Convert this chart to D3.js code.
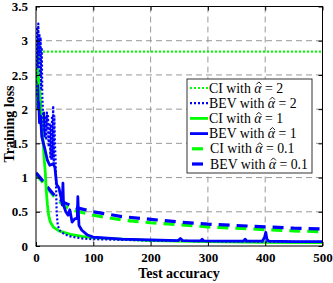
<!DOCTYPE html>
<html><head><meta charset="utf-8">
<script src="https://cdn.jsdelivr.net/npm/d3@7"></script>
<style>body{margin:0;background:#fff}svg{display:block}</style>
</head><body><svg id="c" width="333" height="283" style="font-family:'Liberation Serif','Times New Roman',Times,serif"></svg>
<script>
const xTicks=[0,100,200,300,400,500];
const yTicks=[0,0.5,1,1.5,2,2.5,3,3.5];
const yTickLabels=["0","0.5","1","1.5","2","2.5","3","3.5"];
const ciA2=[[0,2.0],[1,2.5],[2,3.0],[3,2.6],[4,2.95],[5,2.7],[6,2.95],[8,2.84],[500,2.84]];
const bevA2=[[0,2.4],[1,2.9],[2,3.2],[3,2.6],[4,3.25],[5,2.8],[6,3.1],[7,2.5],[8,3.05],[9,2.3],[10,2.9],[11,2.2],[12,2.0],[13,1.7],[14,1.95],[15,1.6],[16,1.9],[17,1.8],[18,1.55],[19,1.95],[20,1.7],[21,1.9],[22,1.45],[24,1.8],[25,1.3],[26,1.75],[27,1.25],[28,1.9],[29,1.3],[30,2.05],[31,1.2],[32,1.9],[33,1.5],[34,1.3],[35,0.9],[36,0.5],[38,0.3],[42,0.22],[50,0.17],[60,0.14],[80,0.11],[100,0.1],[200,0.08],[300,0.07],[500,0.06]];
const ciA1=[[0,2.3],[3,2.6],[5,2.4],[8,2.1],[10,1.9],[12,1.6],[14,1.3],[16,1.1],[18,0.8],[20,0.6],[22,0.45],[25,0.35],[30,0.28],[40,0.22],[60,0.17],[80,0.14],[100,0.12],[150,0.1],[200,0.08],[300,0.065],[400,0.055],[500,0.05]];
const bevA1=[[0,2.4],[2,2.2],[3,2.35],[4,2.0],[5,2.1],[6,1.8],[8,1.9],[10,1.6],[13,1.5],[16,1.4],[20,1.25],[24,1.18],[30,1.2],[33,1.15],[36,0.9],[40,0.85],[44,0.7],[46,0.6],[47,0.92],[48,0.6],[52,0.5],[56,0.45],[59,0.53],[63,0.35],[68,0.4],[72,0.4],[73,0.72],[75,0.3],[80,0.23],[90,0.16],[100,0.13],[150,0.1],[200,0.09],[248,0.08],[252,0.11],[256,0.08],[287,0.075],[290,0.1],[293,0.075],[362,0.07],[365,0.1],[368,0.07],[395,0.07],[399,0.13],[401,0.2],[403,0.1],[406,0.07],[450,0.065],[500,0.065]];
const ciA01=[[0,1.05],[10,0.95],[20,0.85],[30,0.74],[50,0.58],[70,0.51],[100,0.45],[150,0.38],[200,0.34],[250,0.31],[300,0.28],[350,0.26],[400,0.24],[450,0.22],[500,0.21]];
const bevA01=[[0,1.07],[10,0.97],[20,0.86],[30,0.76],[50,0.63],[70,0.56],[100,0.5],[150,0.43],[200,0.39],[250,0.35],[300,0.32],[350,0.3],[400,0.28],[450,0.26],[500,0.25]];
const labels=["CI with ","BEV with ","CI with ","BEV with ","CI with ","BEV with "];
const alphas=["2","2","1","1","0.1","0.1"];

const FONT="'Liberation Serif','Times New Roman',Times,serif";
const svg=d3.select("#c");
const L=36,R=322.5,T=6.5,B=246;
const x=d3.scaleLinear().domain([0,500]).range([L,R]);
const y=d3.scaleLinear().domain([0,3.5]).range([B,T]);
const green="#00ff00",blue="#0000ff";
const g=svg.append("g");
g.selectAll(".gx").data(xTicks.slice(1,-1)).enter().append("line")
 .attr("x1",d=>x(d)).attr("x2",d=>x(d)).attr("y1",T).attr("y2",B)
 .attr("stroke","#999").attr("stroke-dasharray","6,4").attr("stroke-width",1);
g.selectAll(".gy").data(yTicks.slice(1,-1)).enter().append("line")
 .attr("y1",d=>y(d)).attr("y2",d=>y(d)).attr("x1",L).attr("x2",R)
 .attr("stroke","#999").attr("stroke-dasharray","6,4").attr("stroke-width",1);
svg.append("clipPath").attr("id","clip").append("rect").attr("x",L).attr("y",T).attr("width",R-L).attr("height",B-T);
const line=d3.line().x(d=>x(d[0])).y(d=>y(d[1]));
const series=[
 {d:ciA01,c:green,w:3.2,da:"11,7"},
 {d:bevA01,c:blue,w:3.2,da:"11,7"},
 {d:ciA1,c:green,w:2.8,da:null},
 {d:bevA1,c:blue,w:2.8,da:null},
 {d:ciA2,c:green,w:2.2,da:"2,2"},
 {d:bevA2,c:blue,w:2.2,da:"2,2"}
];
const pg=svg.append("g").attr("clip-path","url(#clip)");
series.forEach(s=>{
 pg.append("path").attr("d",line(s.d)).attr("fill","none").attr("stroke",s.c)
  .attr("stroke-width",s.w).attr("stroke-dasharray",s.da).attr("stroke-linejoin","round");
});
const xa=svg.append("g").attr("transform",`translate(0,${B})`).call(d3.axisBottom(x).tickValues(xTicks).tickSizeInner(-4).tickSizeOuter(0).tickPadding(7));
const ya=svg.append("g").attr("transform",`translate(${L},0)`).call(d3.axisLeft(y).tickValues(yTicks).tickFormat((d,i)=>yTickLabels[i]).tickSizeInner(-4).tickSizeOuter(0).tickPadding(8));
svg.append("g").attr("transform",`translate(0,${T})`).call(d3.axisTop(x).tickValues(xTicks).tickSizeInner(-4).tickSizeOuter(0).tickFormat(""));
svg.append("g").attr("transform",`translate(${R},0)`).call(d3.axisRight(y).tickValues(yTicks).tickSizeInner(-4).tickSizeOuter(0).tickFormat(""));
svg.selectAll(".domain").remove();
svg.selectAll(".tick line").attr("stroke","#000");
svg.selectAll("g").attr("font-family",FONT);
[xa,ya].forEach(a=>a.selectAll("text").attr("font-size",13).attr("font-family",FONT).attr("font-weight","bold").attr("fill","#000"));
svg.append("rect").attr("x",L).attr("y",T).attr("width",R-L).attr("height",B-T).attr("fill","none").attr("stroke","#000").attr("stroke-width",1);
svg.append("text").attr("x",179).attr("y",278).attr("text-anchor","middle").attr("font-family",FONT).attr("font-weight","bold").attr("font-size",14).text("Test accuracy");
svg.append("text").attr("transform",`translate(14,124) rotate(-90)`).attr("text-anchor","middle").attr("font-family",FONT).attr("font-weight","bold").attr("font-size",14).text("Training loss");
const lg=svg.append("g");
lg.append("rect").attr("x",187).attr("y",79).attr("width",125).attr("height",94).attr("fill","#fff").attr("stroke","#333").attr("stroke-width",1);
const lstyles=[series[4],series[5],series[2],series[3],series[0],series[1]];
const ly0=88,ldy=15.2;
lstyles.forEach((s,i)=>{
 const yy=ly0+i*ldy;
 const isDash=s.da==="11,7";
 lg.append("line").attr("x1",isDash?192:190).attr("x2",isDash?203:208).attr("y1",yy).attr("y2",yy)
  .attr("stroke",s.c).attr("stroke-width",s.w).attr("stroke-dasharray",isDash?null:s.da);
 const t=lg.append("text").attr("x",isDash?210:209).attr("y",yy+4.5).attr("font-size",13.8).attr("font-family",FONT).attr("font-weight","normal").attr("fill","#000");
 t.append("tspan").text(labels[i]);
 t.append("tspan").attr("font-style","italic").text("α");
 t.append("tspan").text(" = "+alphas[i]);
 const node=t.node();
 const n=labels[i].length;
 const p0=node.getStartPositionOfChar(n).x, p1=node.getEndPositionOfChar(n).x;
 const cx=(p0+p1)/2+1, hy=yy-3.6;
 lg.append("path").attr("d",`M${cx-2.5},${hy}L${cx},${hy-2.5}L${cx+2.5},${hy}`).attr("fill","none").attr("stroke","#000").attr("stroke-width",0.9);
});
</script></body></html>
